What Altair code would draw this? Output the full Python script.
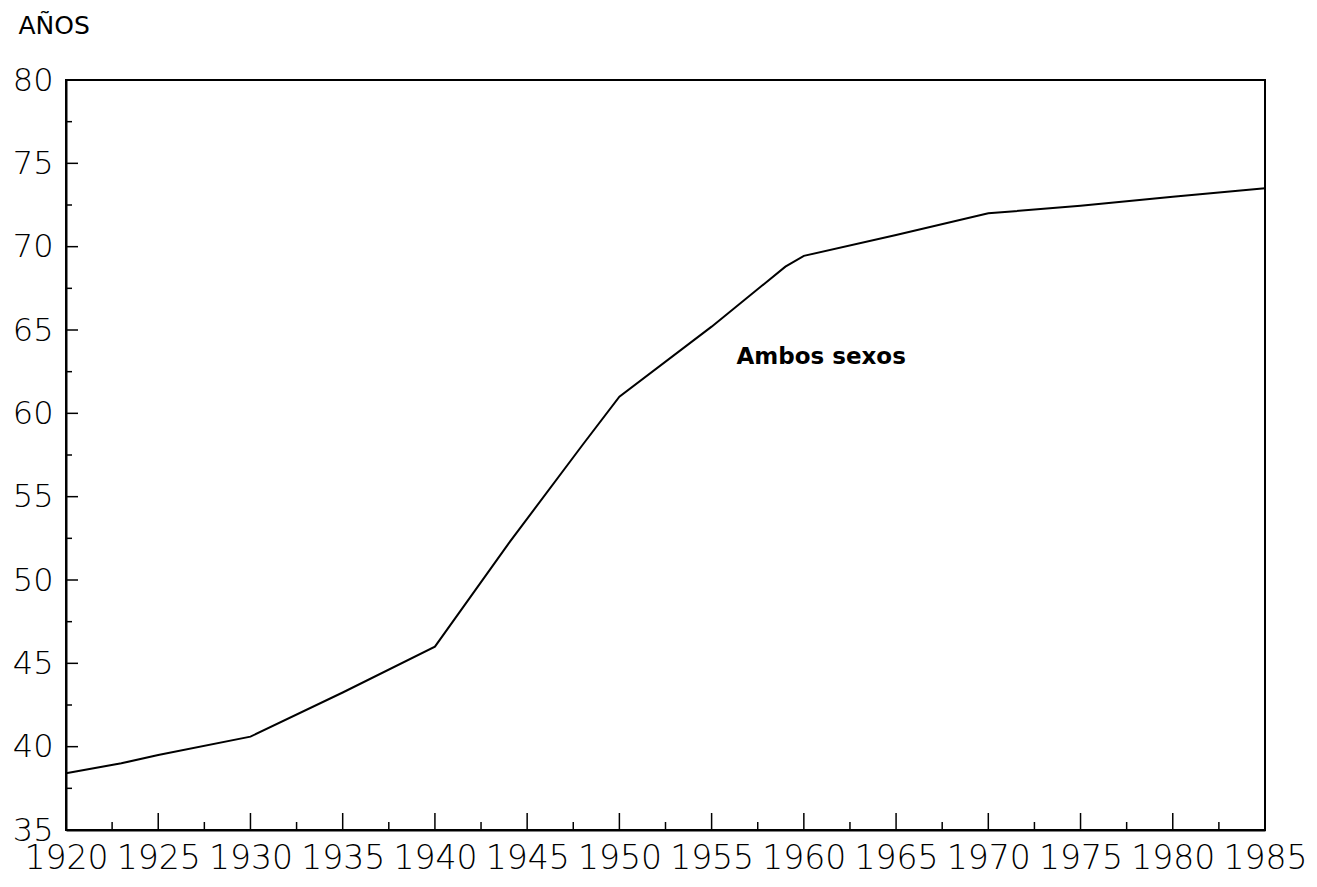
import altair as alt
import pandas as pd

# Data (years, life expectancy "Ambos sexos")
years = [1920, 1923, 1925, 1930, 1935, 1940, 1944, 1948, 1950, 1955, 1959, 1960, 1965, 1970, 1975, 1980, 1985]
values = [38.4, 39.0, 39.5, 40.6, 43.25, 46.0, 52.2, 58.1, 61.0, 65.2, 68.8, 69.45, 70.7, 72.0, 72.45, 73.0, 73.5]

x_tick_labels = [1920, 1925, 1930, 1935, 1940, 1945, 1950, 1955, 1960, 1965, 1970, 1975, 1980, 1985]
y_tick_labels = [35, 40, 45, 50, 55, 60, 65, 70, 75, 80]
x_major_ticks = [1925, 1930, 1935, 1940, 1945, 1950, 1955, 1960, 1965, 1970, 1975, 1980]
x_minor_ticks = [1922.5, 1927.5, 1932.5, 1937.5, 1942.5, 1947.5, 1952.5, 1957.5, 1962.5, 1967.5, 1972.5, 1977.5, 1982.5]
y_major_ticks = [40, 45, 50, 55, 60, 65, 70, 75]
y_minor_ticks = [37.5, 42.5, 47.5, 52.5, 57.5, 62.5, 67.5, 72.5, 77.5]

label_text = ["Ambos sexos"]
label_x = [1956.35]
label_y = [62.95]

W, H = 1199, 750

df = pd.DataFrame({"year": years, "value": values})
xscale = alt.Scale(domain=[1920, 1985], nice=False, zero=False)
yscale = alt.Scale(domain=[35, 80], nice=False, zero=False)

line = alt.Chart(df).mark_line(color="black", strokeWidth=2).encode(
    x=alt.X("year:Q", scale=xscale,
            axis=alt.Axis(values=x_tick_labels, format="d", tickSize=0, labelPadding=12,
                          labelFontSize=33, labelFont="DejaVu Sans", labelFontWeight=300,
                          labelColor="black", labelFlush=False, labelOverlap=False,
                          domainColor="black", domainWidth=2, grid=False, title=None)),
    y=alt.Y("value:Q", scale=yscale,
            axis=alt.Axis(values=y_tick_labels, tickSize=0, labelPadding=13,
                          labelFontSize=32, labelFont="DejaVu Sans", labelFontWeight=300,
                          labelColor="black", labelOverlap=False, labelFlush=False,
                          domainColor="black", domainWidth=2, grid=False,
                          title="AÑOS", titleAngle=0, titleAlign="left", titleBaseline="alphabetic",
                          titleX=-48, titleY=-47, titleFont="DejaVu Sans", titleFontSize=25,
                          titleFontWeight="normal", titleColor="black")),
)

xmaj = alt.Chart(pd.DataFrame({"t": x_major_ticks})).mark_rule(color="black", strokeWidth=1.5).encode(
    x=alt.X("t:Q", scale=xscale), y=alt.value(H), y2=alt.value(H - 17))
xmin = alt.Chart(pd.DataFrame({"t": x_minor_ticks})).mark_rule(color="black", strokeWidth=1.5).encode(
    x=alt.X("t:Q", scale=xscale), y=alt.value(H), y2=alt.value(H - 8))
ymaj = alt.Chart(pd.DataFrame({"t": y_major_ticks})).mark_rule(color="black", strokeWidth=1.5).encode(
    y=alt.Y("t:Q", scale=yscale), x=alt.value(0), x2=alt.value(12))
ymin = alt.Chart(pd.DataFrame({"t": y_minor_ticks})).mark_rule(color="black", strokeWidth=1.5).encode(
    y=alt.Y("t:Q", scale=yscale), x=alt.value(0), x2=alt.value(6))

label = alt.Chart(pd.DataFrame({"text": label_text, "x": label_x, "y": label_y})).mark_text(
    align="left", baseline="alphabetic", font="DejaVu Sans", fontSize=23, fontWeight="bold", color="black"
).encode(x=alt.X("x:Q", scale=xscale), y=alt.Y("y:Q", scale=yscale), text="text:N")

chart = alt.layer(line, xmaj, xmin, ymaj, ymin, label).properties(
    width=W, height=H,
    autosize=alt.AutoSizeParams(type="none"),
    padding={"left": 58, "top": 72, "right": 43, "bottom": 49},
    background="white",
).configure_view(stroke="black", strokeWidth=2)

chart.save("out.html", embed_options={"renderer": "svg", "actions": False})
